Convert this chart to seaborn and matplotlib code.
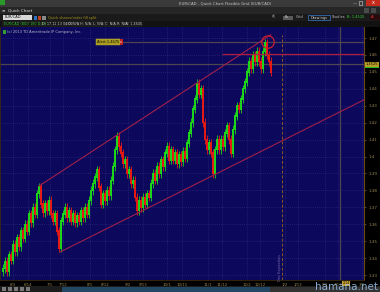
import numpy as np
import pandas as pd
import matplotlib
matplotlib.use("Agg")
import matplotlib.pyplot as plt
import seaborn as sns
from matplotlib.patches import Rectangle

# ---------------- data ----------------
closes = [
    1.334, 1.338, 1.332, 1.342, 1.339, 1.348, 1.344, 1.352, 1.347, 1.356,
    1.352, 1.360, 1.356, 1.366, 1.361, 1.370, 1.366, 1.378, 1.382, 1.372,
    1.367, 1.372, 1.368, 1.374, 1.366, 1.362, 1.366, 1.356, 1.346, 1.362,
    1.366, 1.370, 1.364, 1.368, 1.362, 1.366, 1.361, 1.365, 1.362, 1.368,
    1.364, 1.370, 1.366, 1.374, 1.380, 1.384, 1.388, 1.392, 1.382, 1.372,
    1.378, 1.374, 1.380, 1.377, 1.386, 1.394, 1.404, 1.412, 1.406, 1.402,
    1.396, 1.398, 1.390, 1.392, 1.384, 1.386, 1.376, 1.368, 1.374, 1.370,
    1.376, 1.372, 1.378, 1.376, 1.384, 1.390, 1.386, 1.394, 1.390, 1.398,
    1.394, 1.402, 1.406, 1.398, 1.404, 1.398, 1.402, 1.396, 1.401, 1.397,
    1.403, 1.399, 1.408, 1.414, 1.420, 1.428, 1.434, 1.443, 1.437, 1.440,
    1.420, 1.410, 1.404, 1.408, 1.402, 1.390, 1.404, 1.410, 1.404, 1.410,
    1.406, 1.414, 1.418, 1.410, 1.402, 1.416, 1.424, 1.430, 1.428, 1.434,
    1.440, 1.444, 1.450, 1.456, 1.452, 1.460, 1.456, 1.462, 1.456, 1.452,
    1.462, 1.467, 1.460, 1.456, 1.450,
]

y_ticks = [1.33, 1.34, 1.35, 1.36, 1.37, 1.38, 1.39, 1.40,
           1.41, 1.42, 1.43, 1.44, 1.45, 1.46, 1.47]
y_tick_labels = ["1.33", "1.34", "1.35", "1.36", "1.37", "1.38", "1.39", "1.4",
                 "1.41", "1.42", "1.43", "1.44", "1.45", "1.46", "1.47"]

x_tick_pos = [5, 12.5, 23.5, 30, 43.5, 51, 62.5, 70, 82, 89.5, 102.5, 109.5,
              122, 128.5, 141, 147.5, 161, 167.5, 179.5]
x_tick_labels = ["6/3", "6/14", "7/1", "7/12", "8/1", "8/12", "9/2", "9/13",
                 "10/1", "10/11", "11/1", "11/12", "12/2", "12/12", "1/2",
                 "1/13", "2/3", "2/13", "3/3"]

upper_channel_x = [18.0, 134.0]
upper_channel_y = [1.3826, 1.4720]
lower_channel_x = [28.5, 182.0]
lower_channel_y = [1.3436, 1.4344]

resistance_level = 1.4603
resistance_start = 109.5
alert_level = 1.4676
alert_start = 58.5
alert_label = "Alert 1.4675"
crosshair_price = 1.4546
crosshair_index = 168.5
crosshair_date = "2/14"
expiration_index = 139.5
circle_x = 132.5
circle_y = 1.4676
last_label = "1.4525"

# ---------------- style ----------------
sns.set_style("dark")
plt.rcParams['font.family'] = ['DejaVu Sans']

W, H = 380, 292
fig = plt.figure(figsize=(W / 100, H / 100), dpi=100, facecolor="#000000")

def frect(x, y, w, h, color, **kw):
    fig.add_artist(Rectangle((x / W, 1 - (y + h) / H), w / W, h / H,
                             transform=fig.transFigure, facecolor=color,
                             edgecolor=kw.pop("ec", "none"), lw=kw.pop("lw", 0.4), **kw))

def ftext(x, y, s, **kw):
    fig.text(x / W, 1 - y / H, s, va="center", **kw)

# axes area: x 0..364, y 27..280 px
ax = fig.add_axes([0 / W, (H - 280) / H, 364 / W, (280 - 27) / H])
ax.set_facecolor("#0c085c")
ax.set_xlim(-1.5, 180.5)
ax.set_ylim(1.3271, 1.4765)

# grid
for yt in y_ticks:
    ax.axhline(yt, color="#34348a", lw=0.5, ls=(0, (1, 2)), zorder=0)
for xt in x_tick_pos:
    ax.axvline(xt, color="#34348a", lw=0.5, ls=(0, (1, 2)), zorder=0)

# price bars (body from previous close to close, plus thin wick)
c = np.array(closes)
idx = np.arange(len(c))
prev = np.concatenate([[c[0] - 0.002], c[:-1]])
lo = np.minimum(prev, c)
hi = np.maximum(prev, c)
cols = np.where(c >= prev, "#1ed81a", "#e81a14")
ax.vlines(idx, lo - 0.0025, hi + 0.0025, colors=cols, lw=0.6, zorder=3)
ax.vlines(idx, lo - 0.0004, hi + 0.0004, colors=cols, lw=1.4, zorder=3)

# channel lines via seaborn
ch = pd.DataFrame({
    "x": upper_channel_x + lower_channel_x,
    "y": upper_channel_y + lower_channel_y,
    "line": ["upper", "upper", "lower", "lower"],
})
sns.lineplot(data=ch, x="x", y="y", units="line", estimator=None,
             color="#a0204a", lw=0.8, ax=ax, zorder=4, legend=False)

# horizontal levels
ax.hlines(resistance_level, resistance_start, 180.5, color="#b01c3c", lw=0.9, zorder=4)
ax.hlines(alert_level, alert_start, 180.5, color="#4e4650", lw=0.9, zorder=2)
ax.axhline(crosshair_price, color="#4e4650", lw=0.9, zorder=2)
ax.axvline(crosshair_index, color="#4e4650", lw=0.9, zorder=2)
ax.vlines(expiration_index, 1.3271, 1.472, color="#8a5a22", lw=0.7,
          ls=(0, (3, 2)), zorder=2)
ax.text(expiration_index - 1.2, 1.3345, "Dec Expiration", rotation=90,
        fontsize=2.6, color="#7a6ab4", ha="center", va="center")

# circle marker
ax.scatter([circle_x], [circle_y], s=80, facecolors="none",
           edgecolors="#c81e30", linewidths=0.9, zorder=5)

# alert label box
ax.text(alert_start - 0.3, alert_level, alert_label, fontsize=2.6, color="#101010",
        ha="right", va="center", zorder=6,
        bbox=dict(boxstyle="square,pad=0.25", fc="#a89a1e", ec="#c8b830", lw=0.3))
ax.text(alert_start + 0.7, alert_level, "x", fontsize=2.4, color="white",
        ha="center", va="center", zorder=6,
        bbox=dict(boxstyle="square,pad=0.2", fc="#c02020", ec="none"))

# axes styling
ax.yaxis.tick_right()
ax.set_yticks(y_ticks)
ax.set_yticklabels(y_tick_labels)
ax.set_xticks(x_tick_pos)
ax.set_xticklabels(x_tick_labels)
ax.tick_params(axis="y", colors="#8c7a48", labelsize=3, length=1.5, width=0.4, pad=1.5)
ax.tick_params(axis="x", colors="#8c7a48", labelsize=2.8, length=1.5, width=0.4, pad=1)
for lab in ax.get_xticklabels() + ax.get_yticklabels():
    lab.set_color("#9a8650")
ax.set_xlabel("")
ax.set_ylabel("")
ax.spines["top"].set_visible(False)
ax.spines["right"].set_color("#6a4a18")
ax.spines["right"].set_linewidth(0.8)
ax.spines["bottom"].set_color("#3a2a10")
ax.spines["left"].set_color("#3a2a10")
ax.spines["bottom"].set_linewidth(0.6)
ax.spines["left"].set_linewidth(0.6)

# price box on right axis
frect(365, 62, 14, 5, "#b89c28")
ftext(372, 64.5, last_label, fontsize=2.6, color="#101010", ha="center")
frect(365, 67, 14, 1.2, "#20c020")
# crosshair date box
frect(342, 281, 8, 4.5, "#c8a030")
ftext(346, 283.2, crosshair_date, fontsize=2.3, color="#101010", ha="center")

# copyright
frect(3, 30, 3, 4, "#2fa02f")
ftext(7, 32, "(c) 2013 TD Ameritrade IP Company, Inc.", fontsize=2.6, color="#b8b8c8")

# ---------------- window chrome ----------------
frect(0, 0, 380, 7, "#3a3a3a")
frect(0, 0, 5, 5, "#2a9a2a")
ftext(225, 3.3, "EUR/CAD - Quick Chart Flexible Grid (EUR/CAD)", fontsize=2.8,
      color="#c8c8c8", ha="center")
ftext(355, 3.0, "—", fontsize=3, color="#d0d0d0", ha="center")
frect(359, 1.5, 3, 3, "none", ec="#d0d0d0", lw=0.4)
frect(366, 0, 14, 6, "#c42b1c")
ftext(373, 3.0, "x", fontsize=3.5, color="white", ha="center")

frect(0, 7, 380, 7, "#262626")
ftext(2, 10.5, "≡", fontsize=3, color="#b0b0b0")
ftext(8, 10.5, "Quick Chart", fontsize=3, color="#e0e0e0")
frect(364, 8, 5, 5, "#4a4a4a")
frect(371, 8, 5, 5, "#4a4a4a")

frect(0, 14, 380, 7, "#1a1a1a")
frect(3, 15, 29, 5, "#d8d8d8")
ftext(5, 17.5, "EUR/CAD", fontsize=2.6, color="#101010")
frect(34, 15.5, 3, 4, "#3070c0")
frect(38, 15.5, 3, 4, "#c04020")
frect(42, 15.5, 4, 4, "#8a8a8a")
ftext(48, 17.5, "Quick shares/order fill split", fontsize=2.6, color="#a89020")
ftext(272, 17.5, "⇱", fontsize=3, color="#c0c0c0")
frect(283, 15.5, 10, 4, "#5a5a5a")
ftext(285, 17.5, "Px", fontsize=2.4, color="#e0e0e0")
ftext(296, 17.5, "Grid", fontsize=2.6, color="#c0c0c0")
frect(308, 15, 22, 5, "#1a1a1a", ec="#3a7ad0", lw=0.5)
ftext(311, 17.5, "Drawings", fontsize=2.6, color="#d0d0d0")
ftext(332, 17.5, "Studies", fontsize=2.6, color="#c0c0c0")
ftext(347, 17.5, "B: 1.4525", fontsize=2.6, color="#30d030")
frect(370, 15, 10, 5, "#2a0a0a")
ftext(371, 17.5, "A:", fontsize=2.6, color="#e03030")

frect(0, 21, 380, 6, "#121212")
info = [(3, 40, "EUR/CAD (BID) 180 D 4H", "#30c030"),
        (41, 66, "D: 17.12.13 04:00", "#c8c8c8"),
        (67, 78, "O: N/A", "#c8c8c8"),
        (79, 91, "H: N/A", "#c8c8c8"),
        (92, 103, "L: N/A", "#c8c8c8"),
        (104, 115, "C: N/A", "#c8c8c8"),
        (116, 124, "R: N/A", "#c8c8c8"),
        (125, 142, "V: 1.4645", "#c8c8c8")]
for x0, x1, s, col in info:
    frect(x0, 21.6, x1 - x0, 4.6, "#121212", ec="#3c3c3c", lw=0.35)
    ftext(x0 + 1, 24, s, fontsize=2.4, color=col)

# ---------------- bottom bar ----------------
frect(0, 286, 380, 6, "#1c1c1c")
for xx in [2, 8, 14, 20, 26]:
    frect(xx, 287, 4, 4, "#7a7a7a")
frect(62, 287, 208, 5, "#224866")
frect(270, 287, 110, 5, "#333333")
ftext(347, 286.5, "hamana.net", fontsize=7.5, color="#9cc4f0", ha="center", alpha=0.85)

fig.savefig("out.png", dpi=100, facecolor=fig.get_facecolor())
